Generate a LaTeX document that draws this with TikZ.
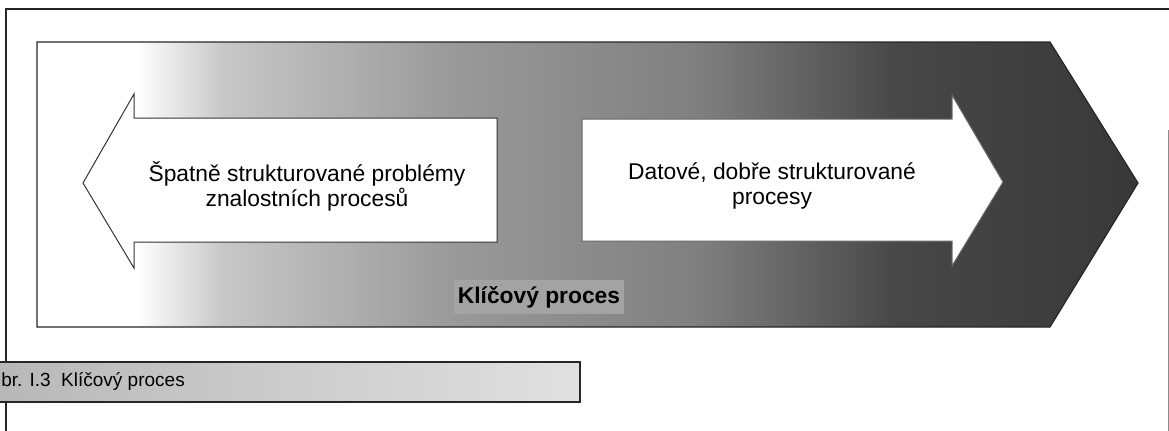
\documentclass[tikz,border=0pt]{standalone}
\usepackage{fontspec}
\setmainfont{Liberation Sans}
\usepackage{tikz}
\usetikzlibrary{positioning}

\pgfdeclarehorizontalshading{keyshade}{100bp}{color(0bp)=(white); color(29.5bp)=(white); color(33.5bp)=(black!22); color(44bp)=(black!40); color(55bp)=(black!50); color(64bp)=(black!72); color(75bp)=(black!78); color(100bp)=(black!78)}

\begin{document}
\begin{tikzpicture}[x=0.5pt, y=-0.5pt,
    frame/.style={draw=black!85, line width=0.7pt},
    whitearrow/.style={draw=black!80, fill=white, line width=0.5pt},
    arrowtext/.style={align=center, font=\fontsize{11.4}{12.5}\selectfont},
    captionbar/.style={draw=black!85, line width=0.7pt, left color=black!28, right color=black!12}]
  \useasboundingbox (0,0) rectangle (1169,430);
  % outer frame
  \draw[frame] (6,440) -- (6,9) -- (1175,9);
  \draw[black!45, line width=0.5pt] (1168,130) -- (1168,440);
  % key process band
  \path[shading=keyshade, draw=black!85, line width=0.6pt]
    (37,42) -- (1050,42) -- (1138,183) -- (1050,327) -- (37,327) -- cycle;
  % the two white arrows
  \draw[whitearrow] (83,183) -- (134,94) -- (134,118) -- (497,118)
    -- (497,242) -- (134,242) -- (134,268) -- cycle;
  \draw[whitearrow, draw=black!60] (582,119) -- (952,119) -- (952,95)
    -- (1003,182) -- (952,266) -- (952,241) -- (582,241) -- cycle;
  \node[arrowtext] (bad) at (307,186) {Špatně strukturované problémy\\znalostních procesů};
  \node[arrowtext] (good) at (772,186) {Datové, dobře strukturované\\procesy};
  \node[fill=black!36, inner xsep=2pt, inner ysep=3pt, font=\fontsize{11.4}{12.5}\selectfont\bfseries] (key) at (539,297) {Klíčový proces};
  % caption
  \path[captionbar] (-5,362) rectangle (580,402);
  \node[anchor=west, inner xsep=0.5pt, font=\fontsize{9.5}{11}\selectfont] (cap) at (0,381) {br. I.3\ \ Klíčový proces};
\end{tikzpicture}
\end{document}
